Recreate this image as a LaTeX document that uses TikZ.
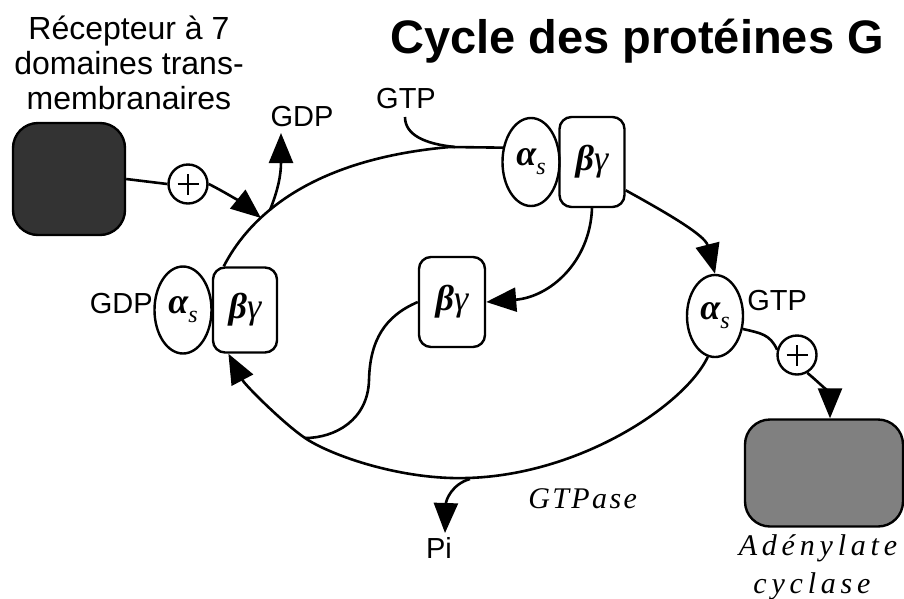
\documentclass[tikz,border=0pt]{standalone}
\usepackage{fontspec}
\setmainfont{Liberation Sans}
\newfontfamily\adfont{Liberation Serif}[LetterSpace=16]
\newfontfamily\gtpasefont{Liberation Serif}[LetterSpace=8]
\newfontfamily\grk{Liberation Serif}
\newcommand{\subA}{{\bfseries\itshape α}\raisebox{-9pt}{\itshape\fontsize{24}{24}\selectfont s}}
\newcommand{\subBG}{{\bfseries\itshape β}{\itshape γ}}
\usetikzlibrary{shapes.geometric,arrows.meta,calc}

\begin{document}
\begin{tikzpicture}[x=1pt,y=-1pt,
  line width=2.6pt,
  every node/.style={inner sep=0pt},
  unit/.style={draw, line width=2.4pt},
  alphasub/.style={unit, ellipse, minimum width=57pt, minimum height=88pt},
  betagamma/.style={unit, rectangle, rounded corners=12pt, minimum width=64pt, minimum height=88pt},
  greek/.style={font=\grk\fontsize{36}{38}\selectfont},
  plus/.style={draw, circle, minimum size=39pt, line width=2.4pt,
    path picture={\draw[line width=2.2pt]
      ([xshift=-10.5pt]path picture bounding box.center) -- ([xshift=10.5pt]path picture bounding box.center)
      ([yshift=-10.5pt]path picture bounding box.center) -- ([yshift=10.5pt]path picture bounding box.center);}},
  bigbox/.style={draw, rectangle, rounded corners=25pt, line width=2.4pt},
  tip/.style={-{Triangle[length=30pt,width=24pt]}},
  lbl/.style={font=\fontsize{29}{32}\selectfont, anchor=base},
  serifit/.style={anchor=base, font=#1\itshape\fontsize{30}{32}\selectfont}
]
\useasboundingbox (0,0) rectangle (904,598);

% titles and labels
\node[font=\bfseries\fontsize{47}{50}\selectfont, anchor=base] (title) at (637,53) {Cycle des protéines G};
\node[font=\fontsize{32}{35}\selectfont, align=center, anchor=north] (reclbl) at (129,15)
  {Récepteur à 7\\domaines trans-\\membranaires};
\node[lbl] (gtp) at (406,108) {GTP};
\node[lbl] (gdp) at (302,126) {GDP};
\node[lbl, anchor=base east] (gdpl) at (154,313) {GDP};
\node[lbl, anchor=base west] (gtpr) at (746,310) {GTP};
\node[lbl] (pi) at (439,558) {Pi};
\node[serifit=\gtpasefont, anchor=base west] (gtpase) at (527,508) {GTPase};
\node[serifit=\adfont] (ad1) at (818,555) {Adénylate};
\node[serifit=\adfont] (ad2) at (812,593) {cyclase};

% receptor and effector
\node[bigbox, fill=black!80, minimum width=112pt, minimum height=112pt] (rec) at (69,179) {};
\node[bigbox, fill=black!50, minimum width=158pt, minimum height=107pt] (ac) at (824,473) {};
\node[plus] (p1) at (188,184) {};
\node[plus] (p2) at (797,355) {};

% G protein subunits
\node[alphasub, greek] (tas) at (531,162) {\subA};
\node[betagamma, greek, minimum width=65pt, minimum height=90pt] (tbg) at (592,162) {\subBG};
\node[betagamma, greek, minimum width=66pt, minimum height=90pt] (mbg) at (452,302) {\subBG};
\node[alphasub, greek, minimum height=87pt] (las) at (183,310) {\subA};
\node[betagamma, greek, minimum height=85pt] (lbg) at (245,310) {\subBG};
\node[alphasub, greek, minimum width=56pt, minimum height=82pt] (ras) at (715,316) {\subA};

% points on the cycle
\coordinate (topstart) at ($(lbg.north west)!0.18!(lbg.north east)$);
\coordinate (recin) at (261,218);
\coordinate (gdpfoot) at (270,210);
\coordinate (gdptip) at (281,133);
\coordinate (gtpin) at (405,117);
\coordinate (join) at (305,438);
\coordinate (lbgtip) at ($(lbg.south west)!0.25!(lbg.south east)$);
\coordinate (pifoot) at (470,479);
\coordinate (pitip) at (445,533);
\coordinate (actip) at ($(ac.north)+(6,0)$);

% cycle
\draw (topstart) .. controls (245,225) and (300,160) .. (450,147) -- (tas.153);
\draw (gtpin) .. controls (405,135) and (425,144) .. (455,147);
\draw[tip] (tbg.-40) .. controls (665,212) and (705,235) .. (ras.north);
\draw[tip] (tbg.south) .. controls (590,262) and (550,297) .. (mbg.east);
\draw (mbg.west) .. controls (385,316) and (370,340) .. (369,380)
  .. controls (368,420) and (335,438) .. (join);
\draw[tip] (ras.-100) .. controls (685,405) and (580,475) .. (467,478)
  .. controls (400,480) and (330,455) .. (join)
  .. controls (283,423) and (245,385) .. (lbgtip);

% receptor activation and GDP release
\draw (rec.east) -- (p1.west);
\draw[tip] (p1.east) .. controls (225,192) and (245,205) .. (recin);
\draw[tip] (gdpfoot) .. controls (278,190) and (281,175) .. (gdptip);

% hydrolysis
\draw[tip] (pifoot) .. controls (452,484) and (446,500) .. (pitip);

% effector activation
\draw (ras.-25) .. controls (760,333) and (770,334) .. (p2.165);
\draw[tip] (p2.-60) .. controls (822,385) and (830,395) .. (actip);
\end{tikzpicture}
\end{document}
